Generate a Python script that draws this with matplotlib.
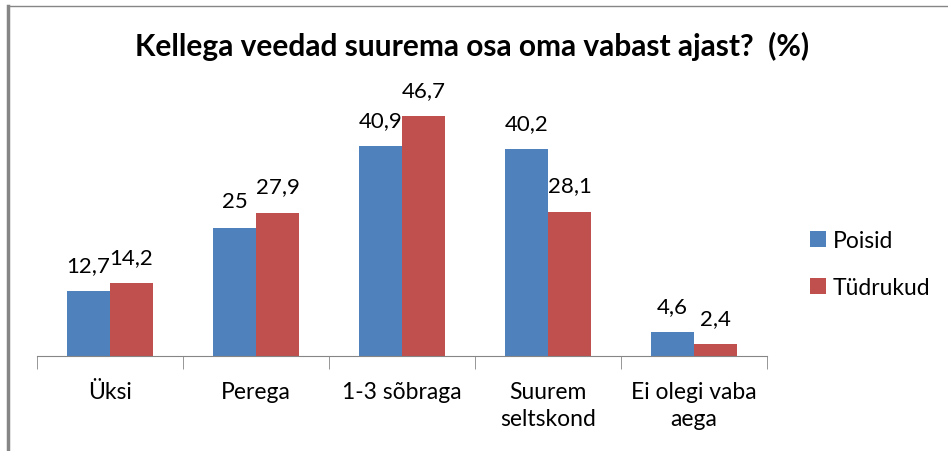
import numpy as np
import matplotlib.pyplot as plt
from matplotlib.lines import Line2D

categories = ['Üksi', 'Perega', '1-3 sõbraga', 'Suurem\nseltskond', 'Ei olegi vaba\naega']
poisid = [12.7, 25, 40.9, 40.2, 4.6]
tudrukud = [14.2, 27.9, 46.7, 28.1, 2.4]
poisid_txt = ['12,7', '25', '40,9', '40,2', '4,6']
tudrukud_txt = ['14,2', '27,9', '46,7', '28,1', '2,4']

plt.rcParams['font.family'] = ['Lato', 'DejaVu Sans']

fig = plt.figure(figsize=(9.48, 4.52), dpi=100)
ax = fig.add_axes([37 / 948, 1 - 357 / 452, 730 / 948, 257 / 452])

x = np.arange(len(categories))
w = 0.295
b1 = ax.bar(x - w / 2, poisid, width=w, color='#4f81bd', label='Poisid')
b2 = ax.bar(x + w / 2, tudrukud, width=w, color='#c0504d', label='Tüdrukud')

for rect, t in zip(b1, poisid_txt):
    ax.text(rect.get_x() + rect.get_width() / 2, rect.get_height() + 3.9, t,
            ha='center', va='baseline', fontsize=16)
for rect, t in zip(b2, tudrukud_txt):
    ax.text(rect.get_x() + rect.get_width() / 2, rect.get_height() + 3.9, t,
            ha='center', va='baseline', fontsize=16)

ax.set_xlim(-0.5, len(categories) - 0.5)
ax.set_ylim(0, 50)
ax.set_yticks([])
for s in ['top', 'right', 'left']:
    ax.spines[s].set_visible(False)
ax.spines['bottom'].set_color('#868686')

ax.set_xticks(x)
ax.set_xticklabels(categories, fontsize=16.5, linespacing=1.35)
ax.tick_params(axis='x', length=0, pad=18)
ax.set_xticks(np.arange(len(categories) + 1) - 0.5, minor=True)
ax.tick_params(axis='x', which='minor', length=9, color='#868686')

fig.text(472 / 948, 1 - 46 / 452, 'Kellega veedad suurema osa oma vabast ajast?  (%)',
         ha='center', va='center', fontsize=21.5, fontweight='bold')

fig.legend(handles=[b1, b2], loc='center left', bbox_to_anchor=(789 / 948, 1 - 265 / 452),
           frameon=False, fontsize=16.5, handlelength=0.7, handleheight=0.7,
           handletextpad=0.3, labelspacing=1.1)

# frame lines (top and left) like the cropped chart border
fig.add_artist(Line2D([8 / 948, 1], [1 - 7 / 452, 1 - 7 / 452], color='#868686', lw=1))
fig.add_artist(Line2D([8 / 948, 8 / 948], [0, 1 - 7 / 452], color='#868686', lw=2.5))

plt.savefig('out.png', dpi=100)
